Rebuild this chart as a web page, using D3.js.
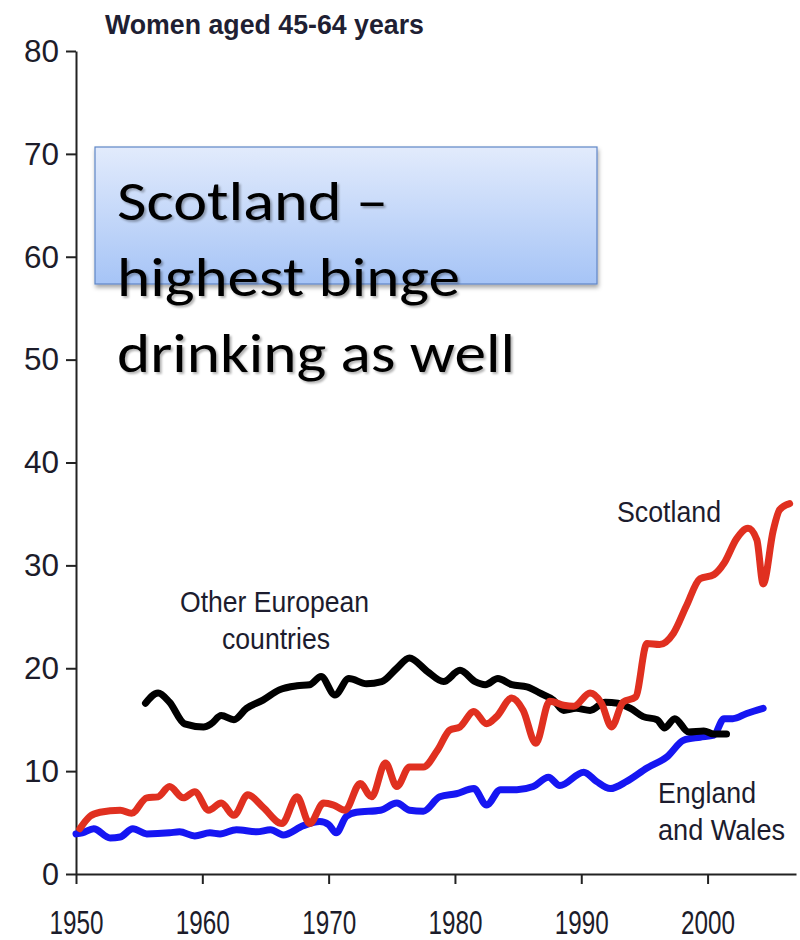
<!DOCTYPE html>
<html>
<head>
<meta charset="utf-8">
<script src="https://cdn.jsdelivr.net/npm/d3@7"></script>
<style>
  html, body { margin: 0; padding: 0; background: #fff; }
  svg { display: block; }
</style>
</head>
<body>
<svg id="chart" width="800" height="940"></svg>
<script>
// ---------------- DATA ----------------
const title = "Women aged 45-64 years";
const yTicks = [0, 10, 20, 30, 40, 50, 60, 70, 80];
const xTicks = [1950, 1960, 1970, 1980, 1990, 2000];

const englandYears = [1950, 1950.5, 1951.4, 1952.7, 1953.5, 1954.5, 1955.6, 1957.4, 1958.2, 1959.4, 1960.6, 1961.4, 1962.7, 1964.3, 1965.4, 1966.4, 1968, 1969.3, 1970, 1970.6, 1971.4, 1972.2, 1974.1, 1975.4, 1976.4, 1977.5, 1978.8, 1980.1, 1981.5, 1982.5, 1983.6, 1984.9, 1986.2, 1987.4, 1988.3, 1990.2, 1991.2, 1992.3, 1993.6, 1995.2, 1996.8, 1998.1, 1999.4, 2000.5, 2001.3, 2002, 2003.1, 2004.4];
const englandValues = [3.9, 4.0, 4.4, 3.5, 3.6, 4.4, 3.9, 4.0, 4.1, 3.7, 4.0, 3.9, 4.3, 4.1, 4.3, 3.8, 4.7, 5.1, 4.8, 4.0, 5.6, 6.0, 6.2, 6.9, 6.2, 6.1, 7.5, 7.8, 8.3, 6.7, 8.2, 8.2, 8.5, 9.4, 8.6, 9.9, 9.0, 8.3, 9.0, 10.3, 11.4, 13.0, 13.3, 13.5, 15.1, 15.1, 15.6, 16.1];

const scotlandYears = [1950.3, 1951.1, 1951.9, 1953.5, 1954.4, 1955.6, 1956.5, 1957.4, 1958.5, 1959.4, 1960.5, 1961.5, 1962.5, 1963.6, 1964.8, 1966.3, 1967.5, 1968.5, 1969.6, 1970.4, 1971.3, 1972.5, 1973.4, 1974.5, 1975.4, 1976.4, 1977.5, 1978.6, 1979.6, 1980.4, 1981.5, 1982.5, 1983.3, 1984.5, 1985.4, 1986.4, 1987.5, 1988.6, 1989.4, 1990.7, 1991.6, 1992.4, 1993.3, 1994.3, 1995.2, 1996.2, 1997.3, 1998.3, 1999.4, 2000.5, 2001.3, 2002.3, 2003.2, 2003.9, 2004.4, 2005.2, 2005.7, 2006.5];
const scotlandValues = [4.4, 5.6, 6.0, 6.2, 5.9, 7.4, 7.5, 8.5, 7.4, 8.0, 6.2, 6.9, 5.7, 7.7, 6.5, 4.9, 7.5, 4.9, 6.9, 6.7, 6.2, 8.8, 7.5, 10.8, 8.5, 10.4, 10.4, 12.0, 14.0, 14.3, 15.8, 14.6, 15.3, 17.1, 15.9, 12.7, 16.8, 16.4, 16.3, 17.6, 16.6, 14.3, 16.7, 17.2, 22.4, 22.3, 23.4, 26.0, 28.7, 29.1, 30.2, 32.6, 33.6, 32.5, 28.2, 33.4, 35.4, 36.0];

const europeYears = [1955.5, 1956.5, 1957.4, 1958.6, 1960.1, 1960.7, 1961.5, 1962.5, 1963.5, 1964.8, 1966.1, 1967.5, 1968.5, 1969.4, 1970.5, 1971.6, 1973, 1974.2, 1975.4, 1976.4, 1977.8, 1979.1, 1980.4, 1981.6, 1982.4, 1983.4, 1984.5, 1985.7, 1986.7, 1987.8, 1988.6, 1989.6, 1990.7, 1991.9, 1992.9, 1993.9, 1994.9, 1996, 1996.6, 1997.4, 1998.5, 1999.7, 2000.5, 2001.5];
const europeValues = [16.6, 17.6, 16.7, 14.6, 14.3, 14.6, 15.4, 15.0, 16.1, 16.9, 17.9, 18.3, 18.4, 19.2, 17.4, 19.0, 18.5, 18.7, 20.0, 21.0, 19.7, 18.7, 19.8, 18.7, 18.4, 19.0, 18.4, 18.2, 17.6, 16.9, 15.9, 16.1, 15.9, 16.7, 16.6, 16.1, 15.3, 15.0, 14.2, 15.1, 13.8, 13.9, 13.6, 13.6];

const annotationLines = ["Scotland \u2013", "highest binge", "drinking as well"];

// ---------------- CHART ----------------
const svg = d3.select("#chart");

const x = d3.scaleLinear().domain([1950, 2007]).range([76, 796]);
const y = d3.scaleLinear().domain([0, 80]).range([874, 51]);

const defs = svg.append("defs");
const grad = defs.append("linearGradient").attr("id", "boxGrad")
  .attr("x1", 0).attr("y1", 0).attr("x2", 0).attr("y2", 1);
grad.append("stop").attr("offset", "0%").attr("stop-color", "#e2ebfc");
grad.append("stop").attr("offset", "100%").attr("stop-color", "#a6c4f6");

const shadow = defs.append("filter").attr("id", "boxShadow")
  .attr("x", "-5%").attr("y", "-5%").attr("width", "115%").attr("height", "130%");
shadow.append("feDropShadow").attr("dx", 1).attr("dy", 3).attr("stdDeviation", 2)
  .attr("flood-color", "#000").attr("flood-opacity", 0.35);

const textShadow = defs.append("filter").attr("id", "textShadow")
  .attr("x", "-5%").attr("y", "-20%").attr("width", "115%").attr("height", "150%");
textShadow.append("feDropShadow").attr("dx", 2).attr("dy", 2).attr("stdDeviation", 1.2)
  .attr("flood-color", "#000").attr("flood-opacity", 0.3);

// Title
svg.append("text")
  .attr("x", 105).attr("y", 34)
  .attr("font-family", "Liberation Sans, Arial, sans-serif")
  .attr("font-weight", "bold")
  .attr("font-size", 28)
  .attr("fill", "#1f1f33")
  .attr("textLength", 319)
  .attr("lengthAdjust", "spacingAndGlyphs")
  .text(title);

// Axes
const yAxis = d3.axisLeft(y).tickValues(yTicks).tickSize(10).tickSizeOuter(0).tickPadding(7);
const xAxis = d3.axisBottom(x).tickValues(xTicks).tickFormat(d3.format("d")).tickSize(10).tickSizeOuter(0).tickPadding(26);

const gy = svg.append("g").attr("transform", "translate(76,0)").call(yAxis);
const gx = svg.append("g").attr("transform", "translate(0,874)").call(xAxis);

[gx, gy].forEach(g => {
  g.select(".domain").attr("stroke", "#222").attr("stroke-width", 2);
  g.selectAll(".tick line").attr("stroke", "#222").attr("stroke-width", 2);
  g.selectAll(".tick text")
    .attr("font-family", "Liberation Sans, Arial, sans-serif")
    .attr("fill", "#1c1c2a");
});
gy.selectAll(".tick text").attr("font-size", 32)
  .attr("textLength", d => d === 0 ? 17 : 35)
  .attr("lengthAdjust", "spacingAndGlyphs");
gx.selectAll(".tick text").attr("font-size", 34)
  .attr("textLength", 54)
  .attr("lengthAdjust", "spacingAndGlyphs");

// Lines
const line = d3.line()
  .x(d => x(d[0]))
  .y(d => y(d[1]))
  .curve(d3.curveMonotoneX);

const series = [
  { years: englandYears, values: englandValues, color: "#1616f2" },
  { years: europeYears, values: europeValues, color: "#000000" },
  { years: scotlandYears, values: scotlandValues, color: "#e03020" }
];

series.forEach(s => {
  svg.append("path")
    .datum(s.years.map((yr, i) => [yr, s.values[i]]))
    .attr("fill", "none")
    .attr("stroke", s.color)
    .attr("stroke-width", 7)
    .attr("stroke-linejoin", "round")
    .attr("stroke-linecap", "round")
    .attr("d", line);
});

// Series labels
const labelFont = "Liberation Sans, Arial, sans-serif";
const seriesLabels = [
  { text: "Scotland", x: 617, y: 522, w: 104 },
  { text: "Other European", x: 180, y: 612, w: 189 },
  { text: "countries", x: 222, y: 649, w: 108 },
  { text: "England", x: 658, y: 803, w: 98 },
  { text: "and Wales", x: 658, y: 840, w: 127 }
];
seriesLabels.forEach(l => {
  svg.append("text")
    .attr("x", l.x).attr("y", l.y)
    .attr("font-family", labelFont)
    .attr("font-size", 29)
    .attr("fill", "#1c1c2e")
    .attr("textLength", l.w)
    .attr("lengthAdjust", "spacingAndGlyphs")
    .text(l.text);
});

// Annotation box
svg.append("rect")
  .attr("x", 95).attr("y", 147).attr("width", 502).attr("height", 137)
  .attr("fill", "url(#boxGrad)")
  .attr("stroke", "#5f86c6").attr("stroke-width", 1.2)
  .attr("filter", "url(#boxShadow)");

const annoWidths = [271, 343, 398];
annotationLines.forEach((t, i) => {
  svg.append("text")
    .attr("x", 117).attr("y", 220 + i * 76)
    .attr("font-family", "Carlito, Lato, 'Open Sans', sans-serif")
    .attr("font-size", 55)
    .attr("fill", "#000")
    .attr("textLength", annoWidths[i])
    .attr("lengthAdjust", "spacingAndGlyphs")
    .attr("filter", "url(#textShadow)")
    .text(t);
});
</script>
</body>
</html>
